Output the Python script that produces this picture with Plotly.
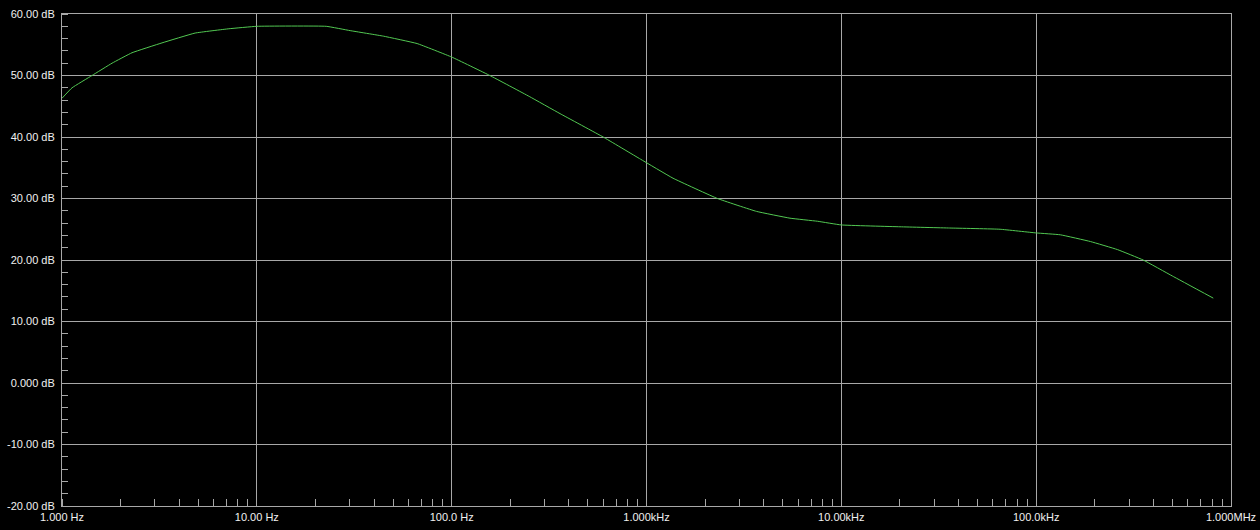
import plotly.graph_objects as go

freq_hz = [1.0, 1.126, 1.426, 1.806, 2.287, 3.26, 4.82, 7.19, 10.0, 22.7, 30.1, 44.6,
           66.4, 100.0, 157.0, 250.0, 360.0, 599.0, 931.0, 1368.0, 2312.0, 3673.0,
           5452.0, 7551.0, 10000.0, 20000.0, 36000.0, 65300.0, 100000.0, 133000.0,
           190000.0, 261000.0, 354000.0, 500000.0, 811000.0]
gain_db = [46.3, 48.0, 50.0, 52.0, 53.7, 55.3, 56.9, 57.6, 58.0, 58.0, 57.3, 56.4,
           55.2, 53.0, 50.0, 46.6, 43.8, 40.0, 36.4, 33.3, 30.0, 27.9,
           26.8, 26.3, 25.7, 25.4, 25.2, 25.0, 24.4, 24.1,
           23.0, 21.7, 20.0, 17.4, 13.8]

x_tick_vals = [1, 10, 100, 1000, 10000, 100000, 1000000]
x_tick_text = ["1.000 Hz", "10.00 Hz", "100.0 Hz", "1.000kHz", "10.00kHz", "100.0kHz", "1.000MHz"]
y_tick_vals = [60, 50, 40, 30, 20, 10, 0, -10, -20]
y_tick_text = ["60.00 dB", "50.00 dB", "40.00 dB", "30.00 dB", "20.00 dB", "10.00 dB",
               "0.000 dB", "-10.00 dB", "-20.00 dB"]

grid = "#a8a8a8"

fig = go.Figure()
fig.add_trace(go.Scatter(x=freq_hz, y=gain_db, mode="lines",
                         line=dict(color="#52c852", width=1, shape="spline", smoothing=0.3),
                         hoverinfo="skip", showlegend=False))

fig.update_layout(
    width=1260, height=530,
    margin=dict(l=62, r=29, t=14, b=24),
    paper_bgcolor="black", plot_bgcolor="black",
    font=dict(family="Liberation Sans, Arial, sans-serif", size=11, color="#f0f0f0"),
)
fig.update_xaxes(
    type="log", range=[0, 6], automargin=False,
    tickmode="array", tickvals=x_tick_vals, ticktext=x_tick_text,
    showgrid=True, gridcolor=grid, gridwidth=1,
    showline=True, linecolor=grid, linewidth=1, mirror=True,
    zeroline=False, ticks="", ticklabelstandoff=1, ticklabeloverflow="allow",
    minor=dict(ticks="inside", ticklen=7, tickcolor=grid, tickwidth=1, dtick="D1", showgrid=False),
)
fig.update_yaxes(
    range=[-20, 60], automargin=False,
    tickmode="array", tickvals=y_tick_vals, ticktext=y_tick_text,
    showgrid=True, gridcolor=grid, gridwidth=1,
    showline=True, linecolor=grid, linewidth=1, mirror=True,
    zeroline=False, ticks="", ticklabelstandoff=4, ticklabeloverflow="allow",
    minor=dict(ticks="inside", ticklen=6, tickcolor=grid, tickwidth=1, dtick=2, showgrid=False),
)

fig.write_html("out.html", config={"displayModeBar": False},
               post_script="document.body.style.margin='0';document.body.style.background='black';")
